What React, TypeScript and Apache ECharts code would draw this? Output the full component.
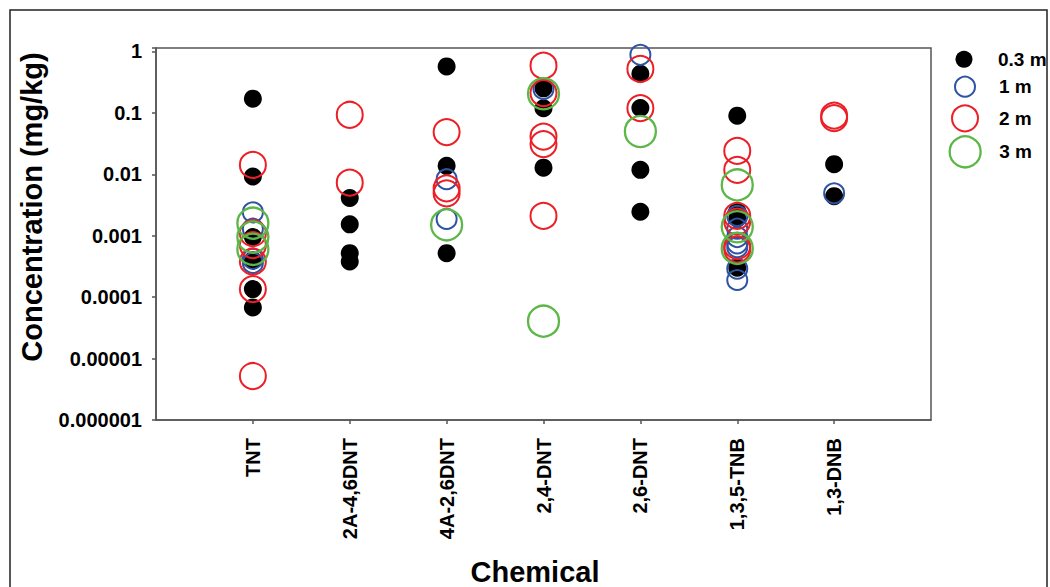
import React, { useEffect, useRef } from "react";
import * as echarts from "echarts";

const categories = ["TNT", "2A-4,6DNT", "4A-2,6DNT", "2,4-DNT", "2,6-DNT", "1,3,5-TNB", "1,3-DNB"];
const yTickLabels = ["0.000001", "0.00001", "0.0001", "0.001", "0.01", "0.1", "1"];
const seriesNames = ["0.3 m", "1 m", "2 m", "3 m"];

// values per category (same order as categories)
const depth03m: number[][] = [
  [0.17, 0.0092, 0.00095, 0.0004, 0.000135, 0.000068],
  [0.0041, 0.00153, 0.00052, 0.00038],
  [0.57, 0.0137, 0.00052],
  [0.25, 0.119, 0.0128],
  [0.433, 0.12, 0.0118, 0.00246],
  [0.09, 0.0025, 0.0019, 0.0003],
  [0.0146, 0.0044],
];
const depth1m: number[][] = [
  [0.0024, 0.0013, 0.00042, 0.00036],
  [],
  [0.0083, 0.00187],
  [0.244],
  [0.88],
  [0.0021, 0.0013, 0.00095, 0.00075, 0.00065, 0.00029, 0.00019],
  [0.0049],
];
const depth2m: number[][] = [
  [0.0142, 0.0011, 0.0007, 0.00038, 0.000135, 0.0000052],
  [0.093, 0.0073],
  [0.0485, 0.0059, 0.0049],
  [0.585, 0.21, 0.041, 0.031, 0.0021],
  [0.517, 0.119],
  [0.024, 0.0118, 0.0021, 0.0017, 0.00068, 0.0006],
  [0.09, 0.082],
];
const depth3m: number[][] = [
  [0.0016, 0.00095, 0.0006],
  [],
  [0.0015],
  [0.204, 0.0000406],
  [0.0496],
  [0.0067, 0.0014, 0.00062],
  [],
];

const FONT = '"Liberation Sans", Arial, Helvetica, sans-serif';

function toPoints(values: number[][]) {
  const out: [string, number][] = [];
  values.forEach((vals, i) => vals.forEach((v) => out.push([categories[i], v])));
  return out;
}

export default function App() {
  const ref = useRef<HTMLDivElement>(null);
  useEffect(() => {
    if (!ref.current) return;
    const chart = echarts.init(ref.current, undefined, { renderer: "svg" });
    const styles = [
      { data: depth03m, size: 18, legendSize: 17, fill: "#000000", stroke: "#000000", bw: 0, top: 49.8 },
      { data: depth1m, size: 20, legendSize: 20, fill: "rgba(0,0,0,0)", stroke: "#2f53a3", bw: 2, top: 75.7 },
      { data: depth2m, size: 26, legendSize: 26, fill: "rgba(0,0,0,0)", stroke: "#ec1f26", bw: 2, top: 104.3 },
      { data: depth3m, size: 31, legendSize: 31, fill: "rgba(0,0,0,0)", stroke: "#5cb748", bw: 2.3, top: 135.2 },
    ];
    const axisColor = "#555555";
    const legendCenterX = 964;
    const legendTextX = 998;
    chart.setOption({
      animation: false,
      backgroundColor: "#ffffff",
      grid: {
        left: 156,
        right: 119,
        top: 48,
        bottom: 167,
        show: true,
        borderColor: axisColor,
        borderWidth: 1.5,
        backgroundColor: "transparent",
      },
      legend: styles.map((s, i) => ({
        orient: "vertical",
        left: legendCenterX - s.legendSize / 2,
        top: s.top,
        padding: 0,
        selectedMode: false,
        icon: "circle",
        itemWidth: s.legendSize,
        itemHeight: s.legendSize,
        data: [seriesNames[i]],
        itemStyle: {
          color: s.fill,
          borderColor: s.stroke,
          borderWidth: s.bw,
        },
        textStyle: {
          fontFamily: FONT,
          fontWeight: "bold",
          fontSize: 19,
          lineHeight: 17,
          color: "#000",
          padding: [0, 0, 0, legendTextX - (legendCenterX + s.legendSize / 2 + 5)],
        },
      })),
      xAxis: {
        type: "category",
        data: ["", ...categories, ""],
        boundaryGap: false,
        axisLine: { show: true, lineStyle: { color: axisColor, width: 1.5 } },
        axisTick: {
          show: true,
          length: 4,
          interval: (_i: number, v: string) => v !== "",
          lineStyle: { color: axisColor, width: 1.5 },
        },
        axisLabel: {
          rotate: 90,
          margin: 18,
          interval: 0,
          fontFamily: FONT,
          fontWeight: "bold",
          fontSize: 20,
          color: "#000",
        },
        splitLine: { show: false },
      },
      yAxis: {
        type: "log",
        logBase: 10,
        min: 0.000001,
        max: 1.135,
        axisLine: { show: true, lineStyle: { color: axisColor, width: 1.5 } },
        axisTick: { show: true, length: 4, lineStyle: { color: axisColor, width: 1.5 } },
        axisLabel: {
          margin: 14,
          fontFamily: FONT,
          fontWeight: "bold",
          fontSize: 20,
          color: "#000",
          formatter: (v: number) => {
            const l = Math.log10(v);
            const e = Math.round(l);
            if (Math.abs(l - e) > 0.01) return "";
            return yTickLabels[e + 6] ?? "";
          },
        },
        splitLine: { show: false },
        minorTick: { show: false },
      },
      series: styles.map((s, i) => ({
        name: seriesNames[i],
        type: "scatter",
        symbol: "circle",
        symbolSize: s.size,
        data: toPoints(s.data),
        itemStyle: { color: s.fill, borderColor: s.stroke, borderWidth: s.bw, opacity: 1 },
        emphasis: { disabled: true },
        z: 2 + i,
      })),
      graphic: [
        {
          type: "rect",
          silent: true,
          z: -10,
          shape: { x: 10, y: 10, width: 1037, height: 600 },
          style: { fill: "none", stroke: "#222", lineWidth: 1.5 },
        },
        {
          type: "text",
          x: 32,
          y: 207,
          rotation: Math.PI / 2,
          style: {
            text: "Concentration (mg/kg)",
            fontFamily: FONT,
            fontWeight: "bold",
            fontSize: 29,
            fill: "#000",
            align: "center",
            verticalAlign: "middle",
          },
        },
        {
          type: "text",
          x: 535,
          y: 572,
          style: {
            text: "Chemical",
            fontFamily: FONT,
            fontWeight: "bold",
            fontSize: 29,
            lineHeight: 29,
            fill: "#000",
            align: "center",
            verticalAlign: "middle",
          },
        },
      ],
    });
    return () => chart.dispose();
  }, []);
  return (
    <div
      ref={ref}
      style={{ position: "fixed", left: 0, top: 0, width: 1050, height: 587, background: "#fff" }}
    />
  );
}
